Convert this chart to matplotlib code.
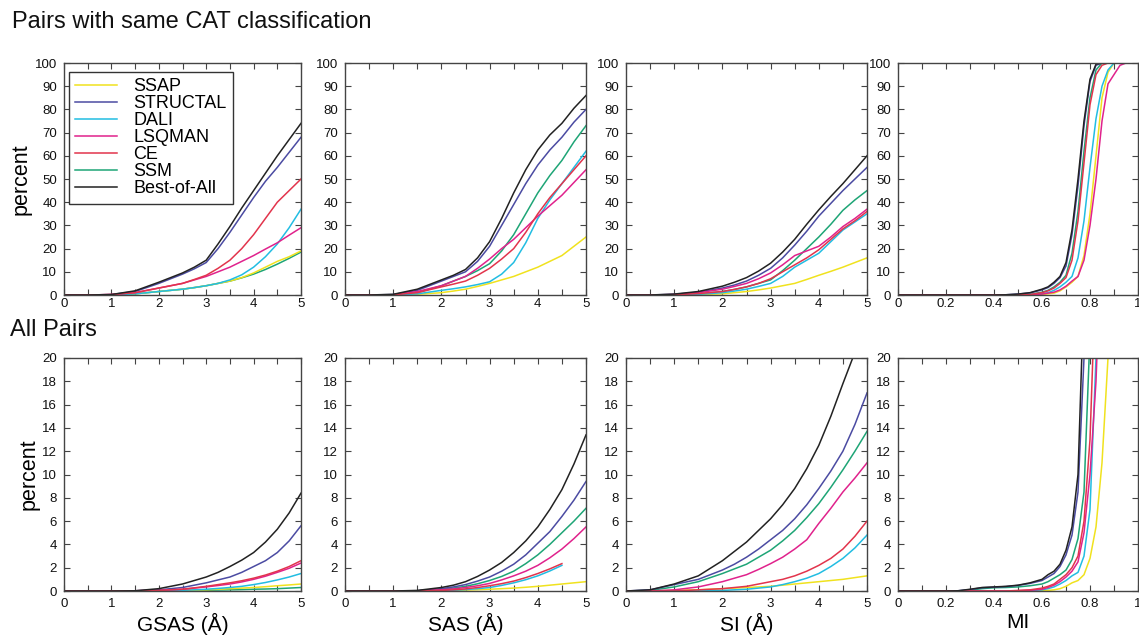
import numpy as np
import matplotlib
matplotlib.use("Agg")
import matplotlib.pyplot as plt
from matplotlib.ticker import MultipleLocator, FuncFormatter

plt.rcParams['font.family'] = ['Liberation Sans', 'DejaVu Sans']

metodos = ["SSAP", "STRUCTAL", "DALI", "LSQMAN", "CE", "SSM", "Best-of-All"]
colores = ["#f0e21e", "#4b4ba2", "#22bde2", "#e0228c", "#e2344c", "#1ea576", "#222222"]

# eje x de los paneles en Angstrom
x_ang = [0, 0.5, 1, 1.5, 2, 2.25, 2.5, 2.75, 3, 3.25, 3.5, 3.75, 4, 4.25, 4.5, 4.75, 5]
# eje x de los paneles MI
x_mi_top = [0, 0.4, 0.45, 0.5, 0.55, 0.6, 0.625, 0.65, 0.675, 0.7, 0.725, 0.75,
            0.775, 0.8, 0.825, 0.85, 0.875, 0.9, 0.925, 0.95, 1.0]
x_mi_bot = [0, 0.2, 0.25, 0.3, 0.35, 0.4, 0.45, 0.5, 0.55, 0.6, 0.625, 0.65, 0.675,
            0.7, 0.725, 0.75, 0.775, 0.8, 0.825, 0.85, 0.875, 0.9]

# Pares con la misma clasificacion CAT
gsas_cat = {
    "SSAP":        [0, 0, 0, 0.5, 1.5, 2, 2.5, 3.2, 4, 5, 6, 7.5, 9.5, 12, 14.5, 16.5, 19],
    "STRUCTAL":    [0, 0, 0.2, 1.5, 5, 7, 9, 11.3, 14, 20, 27, 34.5, 42, 49, 55, 61.5, 68],
    "DALI":        [0, 0, 0, 0.5, 1.5, 2, 2.5, 3.2, 4, 5, 6.5, 8.7, 12, 16.5, 22, 29, 37],
    "LSQMAN":      [0, 0, 0.2, 1, 3, 4, 5, 6.5, 8, 10, 12, 14.5, 17, 19.8, 22.5, 25.8, 29],
    "CE":          [0, 0, 0.2, 1, 3, 4, 5, 6.7, 8.5, 11.5, 15, 20, 26, 33, 40, 45, 50],
    "SSM":         [0, 0, 0, 0.5, 1.5, 2, 2.5, 3.2, 4, 5, 6, 7.4, 9, 11, 13.3, 15.8, 18.5],
    "Best-of-All": [0, 0, 0.2, 1.8, 5.5, 7.5, 9.5, 12, 15, 22, 29.5, 37.5, 45, 52.5, 60, 67, 74],
}
sas_cat = {
    "SSAP":        [0, 0, 0, 0.3, 1, 1.7, 2.5, 3.7, 5, 6.5, 8, 10, 12, 14.5, 17, 21, 25],
    "STRUCTAL":    [0, 0, 0.2, 2, 6, 8, 10, 14.5, 21, 30, 39, 48, 56, 62.5, 68, 74.5, 80],
    "DALI":        [0, 0, 0, 0.5, 2, 2.7, 3.5, 4.5, 5.7, 9, 14, 22.5, 33, 41, 48, 55, 62],
    "LSQMAN":      [0, 0, 0.1, 1.5, 4, 6, 8, 11.5, 15.5, 20, 24, 29, 34, 38.5, 43, 48.5, 54],
    "CE":          [0, 0, 0.1, 1, 3.5, 4.7, 6, 8.5, 11.5, 15.5, 20, 27, 35, 42, 48, 54, 60],
    "SSM":         [0, 0, 0.1, 1, 4, 6, 8, 10.5, 13.5, 19, 26, 35, 44, 51.5, 58, 66, 73],
    "Best-of-All": [0, 0, 0.3, 2.5, 6.5, 8.5, 11, 16, 23, 33, 44, 54, 62.5, 69, 74, 80.5, 86],
}
si_cat = {
    "SSAP":        [0, 0, 0, 0.2, 0.5, 1, 1.5, 2.2, 3, 4, 5, 6.7, 8.5, 10.2, 12, 14, 16],
    "STRUCTAL":    [0, 0, 0.3, 1.2, 3, 4.3, 6, 8.5, 11.5, 16, 21.5, 27.5, 34, 39.5, 45, 50, 55],
    "DALI":        [0, 0, 0, 0.3, 1, 1.7, 2.5, 3.7, 5, 8, 12, 15, 18, 23, 28, 31.5, 35],
    "LSQMAN":      [0, 0, 0.2, 1, 2.5, 3.7, 5, 7, 9.5, 13, 17, 19, 21, 25, 29.5, 33, 37],
    "CE":          [0, 0, 0.1, 0.6, 1.5, 2.4, 3.5, 5, 7, 10, 13, 16, 19.5, 24, 28.5, 32, 36],
    "SSM":         [0, 0, 0.1, 0.5, 1.5, 2.4, 3.5, 5, 6.5, 10.5, 15, 20, 25, 30.5, 36.5, 41, 45],
    "Best-of-All": [0, 0, 0.4, 1.5, 3.8, 5.5, 7.5, 10.3, 13.7, 18.5, 24, 30.5, 36.7, 42.5, 48, 54, 60],
}
mi_cat = {
    "SSAP":        [0, 0, 0, 0, 0, 0.2, 0.5, 0.8, 1.8, 3.5, 5.5, 8, 17, 35, 60, 85, 96, 100, 100, 100, 100],
    "STRUCTAL":    [0, 0, 0.1, 0.4, 0.9, 2.2, 3.2, 5, 7.5, 12.5, 26, 47, 73, 92, 99, 100, 100, 100, 100, 100, 100],
    "DALI":        [0, 0, 0, 0, 0.2, 0.6, 1, 2, 3.5, 5.5, 8, 16, 32, 55, 76, 90, 97, 100, 100, 100, 100],
    "LSQMAN":      [0, 0, 0, 0, 0.1, 0.4, 0.8, 1.2, 2.2, 3.8, 6, 8, 15, 30, 50, 75, 91, 95, 99, 100, 100],
    "CE":          [0, 0, 0, 0.05, 0.2, 1, 1.8, 3, 5, 7.5, 15, 32, 57, 82, 95, 99, 100, 100, 100, 100, 100],
    "SSM":         [0, 0, 0, 0.1, 0.3, 1.2, 2, 3.5, 5.5, 8.5, 18, 36, 62, 85, 97, 100, 100, 100, 100, 100, 100],
    "Best-of-All": [0, 0, 0.1, 0.4, 1, 2.5, 3.5, 5.5, 8, 14, 28, 50, 75, 93, 99.5, 100, 100, 100, 100, 100, 100],
}

# Todos los pares
gsas_all = {
    "SSAP":        [0, 0, 0, 0, 0.02, 0.03, 0.05, 0.07, 0.1, 0.15, 0.2, 0.25, 0.3, 0.37, 0.45, 0.52, 0.6],
    "STRUCTAL":    [0, 0, 0, 0.02, 0.1, 0.2, 0.3, 0.5, 0.7, 0.95, 1.2, 1.6, 2.1, 2.6, 3.3, 4.3, 5.6],
    "DALI":        [0, 0, 0, 0, 0.03, 0.04, 0.06, 0.1, 0.15, 0.22, 0.3, 0.4, 0.55, 0.73, 0.95, 1.2, 1.5],
    "LSQMAN":      [0, 0, 0, 0.02, 0.05, 0.1, 0.15, 0.25, 0.35, 0.47, 0.6, 0.78, 1.0, 1.27, 1.6, 1.95, 2.4],
    "CE":          [0, 0, 0, 0.02, 0.05, 0.1, 0.15, 0.27, 0.4, 0.55, 0.7, 0.88, 1.1, 1.37, 1.7, 2.1, 2.6],
    "SSM":         [0, 0, 0, 0, 0.01, 0.02, 0.03, 0.04, 0.06, 0.08, 0.1, 0.12, 0.15, 0.17, 0.2, 0.25, 0.3],
    "Best-of-All": [0, 0, 0, 0.02, 0.2, 0.4, 0.6, 0.9, 1.2, 1.6, 2.1, 2.65, 3.3, 4.2, 5.3, 6.7, 8.4],
}
sas_all = {
    "SSAP":        [0, 0, 0, 0, 0.02, 0.05, 0.08, 0.11, 0.15, 0.2, 0.25, 0.32, 0.4, 0.5, 0.6, 0.7, 0.8],
    "STRUCTAL":    [0, 0, 0, 0.02, 0.2, 0.35, 0.55, 0.85, 1.2, 1.7, 2.3, 3.1, 4.1, 5.1, 6.4, 7.8, 9.4],
    "DALI":        [0, 0, 0, 0, 0.03, 0.07, 0.12, 0.2, 0.3, 0.48, 0.7, 0.97, 1.3, 1.72, 2.2, np.nan, np.nan],
    "LSQMAN":      [0, 0, 0, 0.02, 0.1, 0.18, 0.3, 0.45, 0.65, 0.95, 1.3, 1.7, 2.2, 2.85, 3.6, 4.5, 5.5],
    "CE":          [0, 0, 0, 0.01, 0.05, 0.1, 0.18, 0.3, 0.45, 0.63, 0.85, 1.15, 1.5, 1.9, 2.35, np.nan, np.nan],
    "SSM":         [0, 0, 0, 0.02, 0.15, 0.25, 0.4, 0.62, 0.9, 1.25, 1.7, 2.35, 3.1, 4.0, 5.0, 6.0, 7.1],
    "Best-of-All": [0, 0, 0, 0.05, 0.3, 0.5, 0.8, 1.25, 1.8, 2.45, 3.3, 4.3, 5.5, 7.0, 8.7, 10.9, 13.4],
}
si_all = {
    "SSAP":        [0, 0, 0.05, 0.1, 0.2, 0.25, 0.3, 0.35, 0.4, 0.5, 0.6, 0.7, 0.8, 0.9, 1.0, 1.15, 1.3],
    "STRUCTAL":    [0, 0.1, 0.55, 1.0, 1.8, 2.3, 2.9, 3.6, 4.4, 5.2, 6.2, 7.4, 8.8, 10.3, 12.0, 14.3, 17],
    "DALI":        [0, 0, 0, 0, 0.05, 0.1, 0.15, 0.25, 0.35, 0.55, 0.8, 1.1, 1.5, 2.1, 2.8, 3.7, 4.8],
    "LSQMAN":      [0, 0, 0.1, 0.35, 0.8, 1.1, 1.4, 1.85, 2.35, 2.9, 3.6, 4.4, 5.8, 7.1, 8.5, 9.7, 11],
    "CE":          [0, 0, 0, 0.1, 0.2, 0.3, 0.4, 0.6, 0.8, 1.0, 1.3, 1.7, 2.2, 2.8, 3.6, 4.7, 6],
    "SSM":         [0, 0.05, 0.35, 0.8, 1.5, 1.9, 2.3, 2.9, 3.5, 4.3, 5.2, 6.3, 7.5, 8.9, 10.4, 12, 13.7],
    "Best-of-All": [0, 0.1, 0.6, 1.3, 2.6, 3.4, 4.2, 5.2, 6.2, 7.4, 8.8, 10.5, 12.5, 15, 17.8, 20.5, 23],
}
mi_all = {
    "SSAP":        [0, 0, 0, 0, 0, 0, 0, 0, 0, 0.02, 0.05, 0.1, 0.2, 0.4, 0.7, 0.9, 1.4, 2.8, 5.5, 11, 20, 45],
    "STRUCTAL":    [0, 0, 0.02, 0.12, 0.28, 0.33, 0.38, 0.48, 0.65, 0.9, 1.2, 1.5, 2.1, 3.1, 4.8, 8.5, 20, 40, 60, 80, 95, 100],
    "DALI":        [0, 0, 0, 0, 0, 0, 0, 0, 0.03, 0.1, 0.2, 0.35, 0.6, 0.9, 1.3, 1.6, 3, 7, 20, 40, 60, 80],
    "LSQMAN":      [0, 0, 0, 0, 0, 0, 0, 0.02, 0.06, 0.15, 0.3, 0.5, 0.8, 1.2, 1.7, 2.5, 5, 10, 18, 32, 50, 70],
    "CE":          [0, 0, 0, 0, 0, 0, 0, 0.05, 0.1, 0.25, 0.4, 0.6, 1.0, 1.4, 2.0, 3, 6, 13, 28, 45, 65, 85],
    "SSM":         [0, 0, 0, 0.08, 0.2, 0.28, 0.3, 0.35, 0.45, 0.6, 0.8, 1.1, 1.4, 1.8, 2.7, 4.5, 8.5, 22, 40, 60, 80, 95],
    "Best-of-All": [0, 0, 0.02, 0.15, 0.3, 0.35, 0.4, 0.5, 0.7, 1.0, 1.4, 1.7, 2.3, 3.5, 5.5, 10, 26, 45, 65, 85, 95, 100],
}

W, H = 1139, 635
fig = plt.figure(figsize=(W / 100, H / 100), dpi=100)


def ejes_px(left, top, w, h):
    return fig.add_axes([left / W, 1 - (top + h) / H, w / W, h / H])


def estilo(ax, es_mi, ymax, ypaso, xpad):
    if es_mi:
        ax.set_xlim(0, 1)
        ax.xaxis.set_major_locator(MultipleLocator(0.2))
        ax.xaxis.set_minor_locator(MultipleLocator(0.1))
    else:
        ax.set_xlim(0, 5)
        ax.xaxis.set_major_locator(MultipleLocator(1))
        ax.xaxis.set_minor_locator(MultipleLocator(0.5))
    ax.set_ylim(0, ymax)
    ax.yaxis.set_major_locator(MultipleLocator(ypaso))
    ax.xaxis.set_major_formatter(FuncFormatter(lambda v, _: f"{v:g}"))
    ax.tick_params(which="both", direction="in", top=True, right=True,
                   length=4, width=0.8, color="#444444", labelsize=9.5,
                   labelcolor="#111111")
    ax.tick_params(axis="x", which="major", pad=xpad)
    ax.tick_params(axis="y", which="major", pad=5)
    for s in ax.spines.values():
        s.set_linewidth(1.0)
        s.set_color("#444444")


izq = [64, 345, 626, 898]
anchos = [237, 241, 241, 240]
arriba = [gsas_cat, sas_cat, si_cat, mi_cat]
abajo = [gsas_all, sas_all, si_all, mi_all]
xlabels = ["GSAS (Å)", "SAS (Å)", "SI (Å)", "MI"]

for fila, (datos_fila, top, h, ymax, ypaso, xpad) in enumerate([
        (arriba, 63, 232, 100, 10, 2), (abajo, 358, 233, 20, 2, 5)]):
    for col in range(4):
        ax = ejes_px(izq[col], top, anchos[col], h)
        es_mi = col == 3
        if es_mi:
            xs = x_mi_top if fila == 0 else x_mi_bot
        else:
            xs = x_ang
        datos = datos_fila[col]
        for m, c in zip(metodos, colores):
            z = 1.9 if m == "SSM" else (2.2 if m == "Best-of-All" else 2)
            ax.plot(xs, datos[m], color=c, lw=1.1, label=m, zorder=z)
        estilo(ax, es_mi, ymax, ypaso, xpad)
        if col == 0:
            ax.set_ylabel("percent", fontsize=15.5, labelpad=2)
        if fila == 1:
            ax.set_xlabel(xlabels[col], fontsize=15, labelpad=2)
        if fila == 0 and col == 0:
            ax.legend(loc="upper left", bbox_to_anchor=(5 / 237, 1 - 9 / 232),
                      borderaxespad=0, fontsize=13, labelspacing=0.0,
                      handlelength=2.3, handletextpad=0.9, borderpad=0.35,
                      fancybox=False, framealpha=1, edgecolor="#333333")

fig.text(12 / W, 1 - 22 / H, "Pairs with same CAT classification",
         fontsize=17, va="center", ha="left", color="#111111")
fig.text(10 / W, 1 - 330 / H, "All Pairs",
         fontsize=17, va="center", ha="left", color="#111111")

fig.savefig("out.png", dpi=100)
